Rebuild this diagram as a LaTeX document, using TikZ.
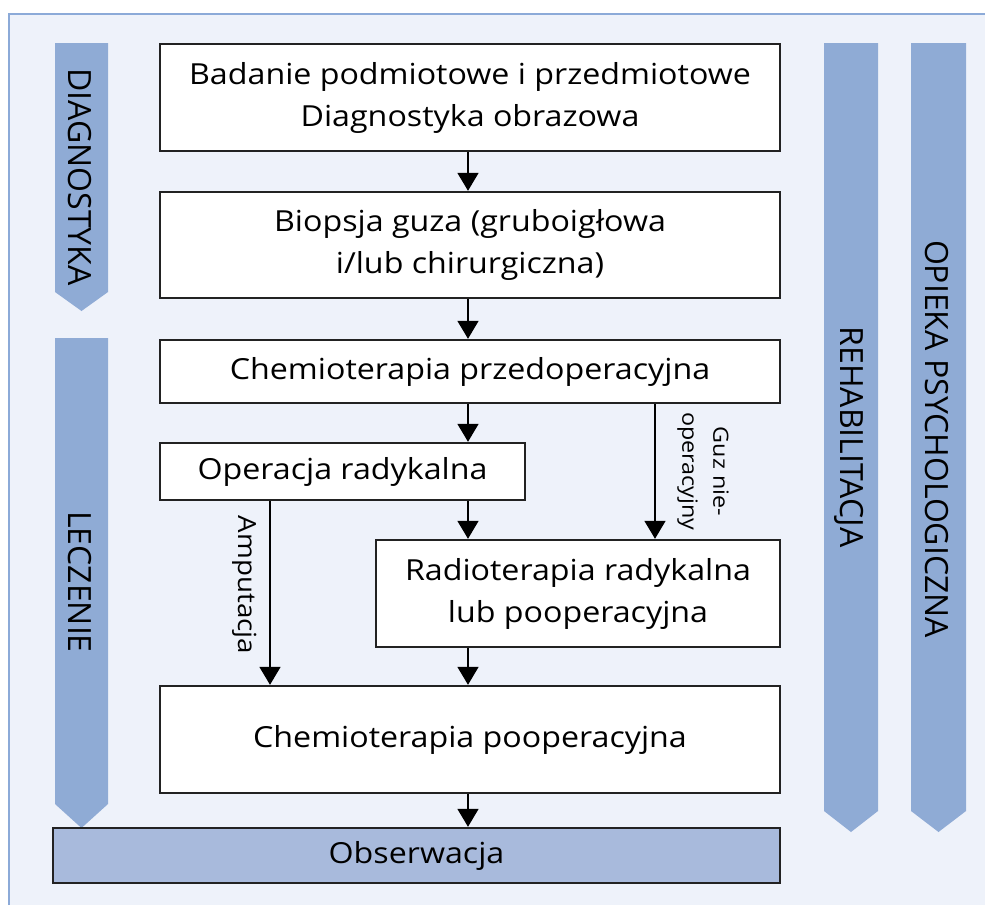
\documentclass[tikz,border=0pt]{standalone}
\usepackage{fontspec}
\setmainfont{Open Sans}
\newfontfamily\widefont[FakeStretch=1.11]{Open Sans}
\usetikzlibrary{arrows.meta}
\definecolor{bgc}{HTML}{EEF2FA}
\definecolor{framec}{HTML}{8CAAD8}
\definecolor{bandc}{HTML}{8FABD5}
\definecolor{obsc}{HTML}{A8BADC}
\definecolor{boxline}{HTML}{222222}
\tikzset{
  box/.style={draw=boxline, line width=2.4pt, fill=white, inner sep=0pt},
  obsbox/.style={draw=boxline, line width=2.4pt, fill=obsc, inner sep=0pt},
  band/.style={fill=bandc},
  boxtext/.style={font=\widefont\fontsize{29}{42}\selectfont, align=center, text=black},
  bandtext/.style={font=\fontsize{32}{36}\selectfont, rotate=-90, text=black},
  guztext/.style={font=\widefont\fontsize{21}{31}\selectfont, rotate=-90, align=center, text=black},
  amptext/.style={font=\widefont\fontsize{25}{30}\selectfont, rotate=-90, align=center, text=black},
  arr/.style={line width=1.8pt, -{Triangle[length=18pt,width=21pt]}},
}
\begin{document}
\begin{tikzpicture}[x=1pt,y=-1pt]
\useasboundingbox (0,0) rectangle (985,905);
\fill[white] (0,0) rectangle (985,905);
\fill[bgc] (9,14) rectangle (985,905);
\draw[framec, line width=2.5pt] (9,905) -- (9,14) -- (985,14);
% bands
\fill[band] (55,43) -- (108,43) -- (108,292) -- (81.5,311) -- (55,292) -- cycle;
\fill[band] (55,338) -- (108,338) -- (108,804) -- (81.5,828) -- (55,804) -- cycle;
\fill[band] (824,43) -- (878,43) -- (878,811) -- (851,832) -- (824,811) -- cycle;
\fill[band] (911,43) -- (966,43) -- (966,811) -- (938.5,832) -- (911,811) -- cycle;
\node[bandtext] (ldiag) at (80,177) {DIAGNOSTYKA};
\node[bandtext] (lleczenie) at (80,582) {LECZENIE};
\node[bandtext] (lrehab) at (849,437) {REHABILITACJA};
\node[bandtext] (lopieka) at (937,439) {OPIEKA PSYCHOLOGICZNA};
% boxes
\node[box, minimum width=620pt, minimum height=107pt, boxtext] (b1) at (470,97.5) {Badanie podmiotowe i przedmiotowe\\Diagnostyka obrazowa};
\node[box, minimum width=620pt, minimum height=106pt, boxtext] (b2) at (470,245) {Biopsja guza (gruboigłowa\\i/lub chirurgiczna)};
\node[box, minimum width=620pt, minimum height=63pt, boxtext] (b3) at (470,371.5) {Chemioterapia przedoperacyjna};
\node[box, minimum width=365pt, minimum height=57pt, boxtext] (b4) at (342.5,471.5) {Operacja radykalna};
\node[box, minimum width=404pt, minimum height=107pt, boxtext] (b5) at (578,593.5) {Radioterapia radykalna\\lub pooperacyjna};
\node[box, minimum width=620pt, minimum height=107pt, boxtext] (b6) at (470,739.5) {Chemioterapia pooperacyjna};
\node[obsbox, minimum width=727pt, minimum height=55pt, boxtext] (b7) at (416.5,855.5) {Obserwacja};
% arrows
\draw[arr] (b1.south -| 468,0) -- (b2.north -| 468,0);
\draw[arr] (b2.south -| 468,0) -- (b3.north -| 468,0);
\draw[arr] (b3.south -| 468,0) -- (b4.north -| 468,0);
\draw[arr] (b4.south -| 468,0) -- (b5.north -| 468,0);
\draw[arr] (b5.south -| 468,0) -- (b6.north -| 468,0);
\draw[arr] (b6.south -| 468,0) -- (b7.north -| 468,0);
\draw[arr] (b3.south -| 655,0) -- node[xshift=18pt, guztext, anchor=south] (lguz) {Guz nie-\\operacyjny} (b5.north -| 655,0);
\draw[arr] (b4.south -| 270,0) -- node[xshift=-9pt, yshift=8pt, amptext, anchor=north] (lamp) {Amputacja} (b6.north -| 270,0);
\end{tikzpicture}
\end{document}
